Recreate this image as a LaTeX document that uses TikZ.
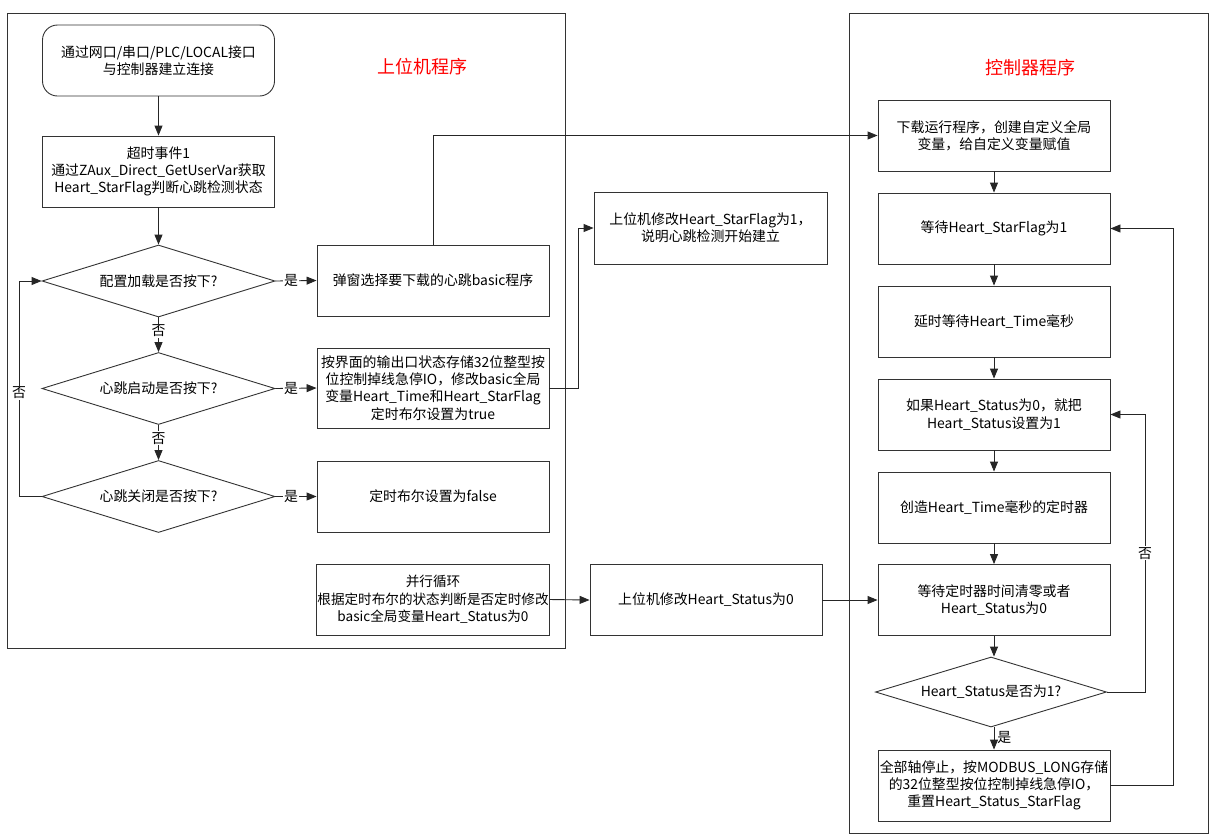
\documentclass[tikz,border=0pt]{standalone}
\usepackage{fontspec}
\setmainfont{Noto Sans CJK SC}
\usetikzlibrary{shapes.geometric,arrows.meta}
\begin{document}
\begin{tikzpicture}[x=1pt,y=-1pt,
  every node/.style={font=\fontsize{13.9}{17.3}\selectfont, text=black},
  box/.style={draw=black!80, line width=0.9pt, rectangle, minimum width=232pt, minimum height=71pt, align=center, inner sep=0.5pt},
  rbox/.style={box, rounded corners=15pt},
  dia/.style={draw=black!80, line width=0.9pt, diamond, aspect=3.2, inner sep=0pt, minimum width=233pt, minimum height=72pt, align=center},
  frame/.style={draw=black!80, line width=0.9pt},
  arr/.style={draw=black!85, line width=0.9pt, -{Triangle[length=10pt,width=8pt]}},
  lab/.style={fill=white, inner sep=1pt},
  ttl/.style={font=\fontsize{18}{22}\selectfont, text=red}
]
\useasboundingbox (0,0) rectangle (1214,839);
\fill[white] (0,0) rectangle (1214,839);
% frames
\draw[frame] (7,13) rectangle (565,648);
\draw[frame] (849,13) rectangle (1208,833);
\node[ttl] (t1) at (422,67) {上位机程序};
\node[ttl] (t2) at (1030,68) {控制器程序};
% left column
\node[rbox] (start) at (158.5,60.5) {通过网口/串口/PLC/LOCAL接口\\与控制器建立连接};
\node[box] (ev) at (158.5,171.5) {超时事件1\\通过ZAux\_Direct\_GetUserVar获取\\Heart\_StarFlag判断心跳检测状态};
\node[dia] (d1) at (158.5,281) {配置加载是否按下?};
\node[dia] (d2) at (158.5,388.5) {心跳启动是否按下?};
\node[dia] (d3) at (158.5,496.5) {心跳关闭是否按下?};
\node[box] (pop) at (433,280.5) {弹窗选择要下载的心跳basic程序};
\node[box, minimum height=80pt] (io) at (433,388) {按界面的输出口状态存储32位整型按\\位控制掉线急停IO，修改basic全局\\变量Heart\_Time和Heart\_StarFlag\\定时布尔设置为true};
\node[box] (fb) at (433,496.5) {定时布尔设置为false};
\node[box, font=\fontsize{13.6}{17.3}\selectfont] (par) at (433,599.5) {并行循环\\根据定时布尔的状态判断是否定时修改\\basic全局变量Heart\_Status为0};
% middle
\node[box, minimum width=233pt, minimum height=72pt] (sf) at (710.5,228) {上位机修改Heart\_StarFlag为1，\\说明心跳检测开始建立};
\node[box] (hs) at (706,600) {上位机修改Heart\_Status为0};
% right column
\node[box] (r1) at (994,135.5) {下载运行程序，创建自定义全局\\变量，给自定义变量赋值};
\node[box] (r2) at (994,228.5) {等待Heart\_StarFlag为1};
\node[box] (r3) at (994,321.5) {延时等待Heart\_Time毫秒};
\node[box] (r4) at (994,414.5) {如果Heart\_Status为0，就把\\Heart\_Status设置为1};
\node[box] (r5) at (994,507.5) {创造Heart\_Time毫秒的定时器};
\node[box] (r6) at (994,600) {等待定时器时间清零或者\\Heart\_Status为0};
\node[dia, minimum width=231pt, minimum height=70pt] (d4) at (991,692) {Heart\_Status是否为1?};
\node[box] (r7) at (994,785.5) {全部轴停止，按MODBUS\_LONG存储\\的32位整型按位控制掉线急停IO，\\重置Heart\_Status\_StarFlag};
% left connectors
\draw[arr] (start) -- (ev);
\draw[arr] (ev) -- (d1);
\draw[arr] (d1.south) -- node[lab, pos=0.38] {否} (d2.north);
\draw[arr] (d2.south) -- node[lab, pos=0.38] {否} (d3.north);
\draw[arr] (d1.east) -- node[lab, pos=0.38] {是} (pop.west);
\draw[arr] (d2.east) -- node[lab, pos=0.38] {是} (io.west);
\draw[arr] (d3.east) -- node[lab, pos=0.38] {是} (fb.west);
\draw[arr] (d3.west) -- (19,496.5) |- node[lab, pos=0.24] {否} (d1.west);
% cross connectors
\draw[arr] (pop.north) |- (r1.west);
\draw[arr] (io.east) -- (578,388) |- (sf.west);
\draw[arr] (par.east) -- (hs.west);
\draw[arr] (hs.east) -- (hs.east -| r6.west);
% right connectors
\draw[arr] (r1) -- (r2);
\draw[arr] (r2) -- (r3);
\draw[arr] (r3) -- (r4);
\draw[arr] (r4) -- (r5);
\draw[arr] (r5) -- (r6);
\draw[arr] (r6.south) -- (d4.north -| r6.south);
\draw[arr] (d4.south -| r7.north) -- node[right, pos=0.45, inner sep=3pt] {是} (r7.north);
\draw[arr] (d4.east) -- (1145,692) |- node[lab, pos=0.25] {否} (r4.east);
\draw[arr] (r7.east) -- (1173,785.5) |- (r2.east);
\end{tikzpicture}
\end{document}
